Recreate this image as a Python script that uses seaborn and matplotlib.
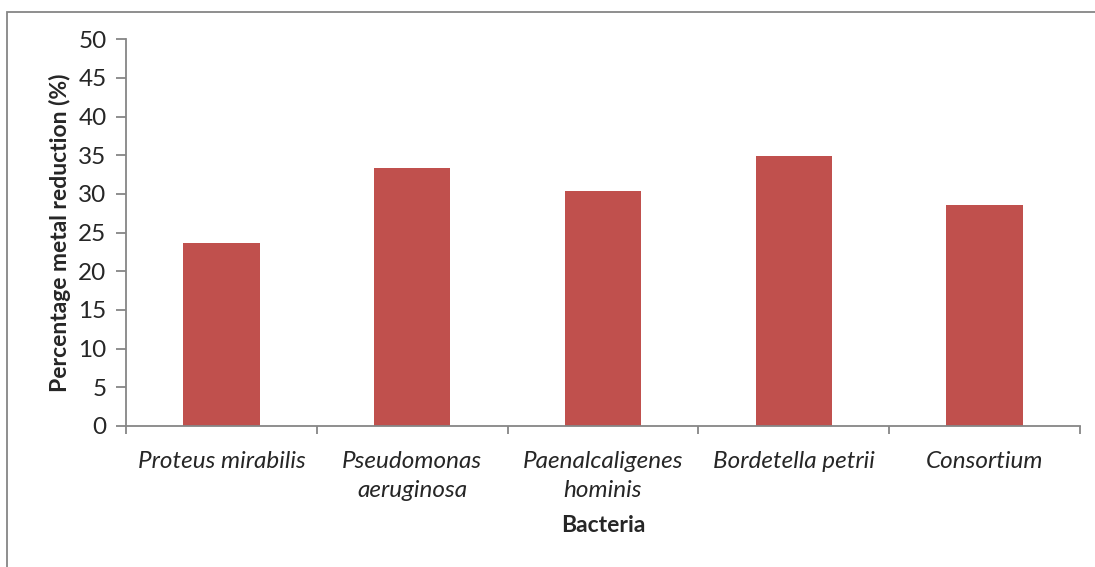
import matplotlib
matplotlib.use("Agg")
import matplotlib.pyplot as plt
import seaborn as sns
import pandas as pd
from matplotlib.patches import Rectangle

categories = ["Proteus mirabilis", "Pseudomonas\naeruginosa", "Paenalcaligenes\nhominis",
              "Bordetella petrii", "Consortium"]
values = [23.6, 33.4, 30.4, 34.9, 28.6]
y_ticks = [0, 5, 10, 15, 20, 25, 30, 35, 40, 45, 50]

sns.set_theme(style="white")
plt.rcParams['font.family'] = ['Lato', 'DejaVu Sans']

df = pd.DataFrame({"cat": categories, "val": values})

fig = plt.figure(figsize=(10.95, 5.67), dpi=100)
ax = fig.add_axes([126/1095, 1-426/567, (1080-126)/1095, (426-39.3)/567])

sns.barplot(data=df, x="cat", y="val", color="#C0504D", width=0.4, saturation=1,
            ax=ax, edgecolor="none")

grey = "#868686"
ax.set_ylim(0, 50)
ax.set_xlim(-0.5, len(categories) - 0.5)
ax.set_yticks(y_ticks)
ax.set_yticklabels([str(v) for v in y_ticks], fontsize=17.5)
ax.set_xticks(range(len(categories)))
ax.set_xticklabels(categories, fontsize=17.5, style="italic", linespacing=1.45)
ax.set_xticks([i - 0.5 for i in range(len(categories) + 1)], minor=True)
ax.tick_params(axis="x", which="major", length=0, pad=18)
ax.tick_params(axis="x", which="minor", length=6, width=1.3, color=grey, direction="out", bottom=True)
ax.tick_params(axis="y", which="major", length=7, width=1.3, color=grey, direction="out", left=True, pad=7)
for s in ["top", "right"]:
    ax.spines[s].set_visible(False)
for s in ["left", "bottom"]:
    ax.spines[s].set_color(grey)
    ax.spines[s].set_linewidth(1.3)

ax.set_xlabel("Bacteria", fontsize=16.5, fontweight="bold", labelpad=10)
ax.set_ylabel("Percentage metal reduction (%)", fontsize=16.5, fontweight="bold", labelpad=5)

fig.patches.append(Rectangle((7/1095, -0.1), 1.2, 1-12/567 + 0.1, transform=fig.transFigure,
                             fill=False, edgecolor=grey, linewidth=1.3, zorder=0))

fig.savefig("out.png", dpi=100)
